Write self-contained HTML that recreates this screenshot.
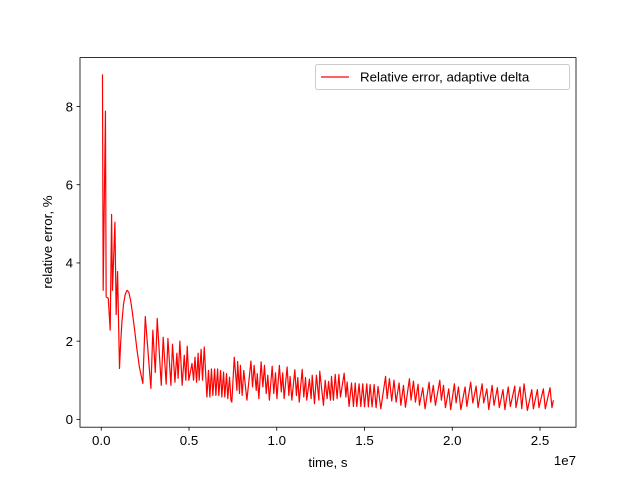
<!DOCTYPE html>
<html><head><meta charset="utf-8"><style>
body{margin:0;background:#fff}
svg text{font-family:"Liberation Sans","DejaVu Sans",sans-serif;font-size:13.3px;fill:#000}
</style></head><body>
<svg id="chart" width="640" height="480" xmlns="http://www.w3.org/2000/svg">
<rect x="0" y="0" width="640" height="480" fill="#fff"/>
<g id="plot"></g>
<g id="axes"></g>
<text x="328" y="467" text-anchor="middle">time, s</text>
<text transform="translate(52,242) rotate(-90)" text-anchor="middle">relative error, %</text>
<text x="576" y="465" text-anchor="end">1e7</text>
<g>
<rect x="315.5" y="64.5" width="254" height="25" rx="2" fill="#fff" fill-opacity="0.8" stroke="#ccc"/>
<line x1="321" y1="77" x2="349" y2="77" stroke="red" stroke-width="1.2"/>
<text x="360" y="81.5">Relative error, adaptive delta</text>
</g>
</svg>
<script>
const xs = [0.007,0.011,0.024,0.028,0.040,0.051,0.059,0.064,0.078,0.085,0.093,0.104,0.110,0.118,0.127,0.137,0.147,0.157,0.167,0.177,0.190,0.203,0.217,0.237,0.251,0.283,0.294,0.308,0.319,0.342,0.353,0.370,0.380,0.397,0.406,0.420,0.431,0.438,0.448,0.461,0.473,0.482,0.490,0.499,0.517,0.526,0.534,0.543,0.552,0.558,0.569,0.577,0.587,0.602,
0.611,0.619,0.628,0.636,0.646,0.653,0.663,0.670,0.680,0.687,0.697,0.704,0.714,0.721,0.731,0.739,0.744,
0.758,0.773,0.777,0.788,0.793,0.803,0.812,0.830,0.853,0.862,0.871,0.883,0.889,0.898,0.911,0.921,0.930,0.940,0.949,0.958,0.974,0.983,0.993,1.001,1.015,1.026,1.034,1.042,1.059,1.069,1.076,1.086,1.103,1.112,1.120,1.128,1.145,1.154,1.164,1.171,1.186,1.196,1.202,1.215,1.226,1.240,1.245,1.266,1.276,1.287,1.295,1.306,1.312,1.323,1.333,1.344,1.354,1.363,1.384,1.394,1.401,1.412,1.426,1.437,1.447,1.456,1.469,1.479,1.490,1.500,1.513,1.522,1.532,1.543,1.555,1.566,1.577,1.593,1.620,1.629,1.642,
1.655,1.668,1.680,1.697,1.707,1.722,1.733,1.756,1.765,1.779,1.790,1.805,1.813,1.832,1.845,1.868,1.877,1.892,1.904,1.929,1.938,1.950,1.961,1.980,1.991,2.012,2.022,2.035,2.049,2.073,2.083,2.105,2.117,2.136,2.147,2.170,2.179,2.197,2.208,2.227,2.238,2.257,2.268,2.289,2.300,2.319,2.331,2.356,2.363,2.386,2.396,2.409,2.428,2.453,2.462,2.485,2.494,2.519,2.530,2.557,2.568,2.576];
const ys = [8.82,3.3,7.88,3.13,3.1,2.28,5.24,3.3,5.04,2.68,3.78,1.30,1.9,2.5,2.95,3.2,3.3,3.25,3.05,2.75,2.3,1.8,1.35,0.92,2.63,0.79,2.28,1.2,2.58,0.87,2.1,0.9,2.07,0.87,1.92,0.95,1.69,1.05,2.0,0.87,1.64,1.0,1.87,1.0,1.43,1.0,1.59,0.95,1.69,1.0,1.79,1.0,1.85,0.57,
1.25,0.57,1.29,0.61,1.29,0.61,1.29,0.61,1.25,0.57,1.21,0.57,1.17,0.53,1.08,0.49,0.44,
1.59,0.74,1.48,0.66,1.38,0.61,1.25,0.49,1.49,0.83,1.38,0.74,1.17,0.53,1.47,0.83,1.38,0.66,1.13,0.49,1.36,0.66,1.19,0.53,1.38,0.70,1.19,0.53,1.34,0.61,1.10,0.49,1.27,0.61,1.07,0.44,1.28,0.57,1.07,0.49,1.03,0.53,1.13,0.40,1.13,0.49,1.23,0.36,1.00,0.53,0.97,0.49,1.10,0.49,1.15,0.53,1.15,0.57,1.18,0.57,0.955,0.33,0.93,0.33,0.93,0.33,0.91,0.33,0.91,0.32,0.91,0.32,0.89,0.32,0.89,0.30,0.84,0.27,1.10,0.53,1.04,
0.47,1.00,0.44,0.93,0.36,0.87,0.31,1.04,0.49,0.98,0.44,0.90,0.36,0.81,0.27,0.95,0.44,0.87,0.36,1.00,0.49,0.87,0.30,0.78,0.25,0.91,0.42,0.83,0.25,0.83,0.33,0.95,0.42,0.85,0.30,0.91,0.42,0.78,0.25,0.87,0.36,0.81,0.30,0.76,0.25,0.83,0.33,0.85,0.30,0.83,0.27,0.91,0.23,0.76,0.27,0.76,0.30,0.78,0.27,0.81,0.30,0.49];
const xTicks = [0, 0.5, 1.0, 1.5, 2.0, 2.5];
const xTickLabels = ["0.0","0.5","1.0","1.5","2.0","2.5"];
const yTicks = [0, 2, 4, 6, 8];
const yTickLabels = ["0","2","4","6","8"];

const L=80,R=576,T=57.6,B=427.2;
const xmin=-0.121,xmax=2.705,ymin=-0.20,ymax=9.25;
const sx=v=>L+(v-xmin)/(xmax-xmin)*(R-L);
const sy=v=>B-(v-ymin)/(ymax-ymin)*(B-T);
const NS="http://www.w3.org/2000/svg";
const plot=document.getElementById('plot'), axes=document.getElementById('axes');

let d='';
for(let i=0;i<xs.length;i++){d+=(i?'L':'M')+sx(xs[i]).toFixed(2)+','+sy(ys[i]).toFixed(2);}
const path=document.createElementNS(NS,'path');
path.setAttribute('d',d);path.setAttribute('fill','none');path.setAttribute('stroke','red');
path.setAttribute('stroke-width','1.2');path.setAttribute('stroke-linejoin','round');


plot.appendChild(path);

const frame=document.createElementNS(NS,'rect');
frame.setAttribute('x',L);frame.setAttribute('y',T);frame.setAttribute('width',R-L);frame.setAttribute('height',B-T);
frame.setAttribute('fill','none');frame.setAttribute('stroke','#000');frame.setAttribute('stroke-width','0.8');


axes.appendChild(frame);

xTicks.forEach((v,i)=>{
  const x=sx(v);
  const t=document.createElementNS(NS,'line');
  t.setAttribute('x1',x);t.setAttribute('x2',x);t.setAttribute('y1',B);t.setAttribute('y2',B+3.5);
  t.setAttribute('stroke','#000');t.setAttribute('stroke-width','0.8');
  
  
  axes.appendChild(t);
  const tx=document.createElementNS(NS,'text');
  tx.setAttribute('x',x);tx.setAttribute('y',B+18);tx.setAttribute('text-anchor','middle');
  tx.textContent=xTickLabels[i];
  
  
  axes.appendChild(tx);
});
yTicks.forEach((v,i)=>{
  const y=sy(v);
  const t=document.createElementNS(NS,'line');
  t.setAttribute('x1',L-3.5);t.setAttribute('x2',L);t.setAttribute('y1',y);t.setAttribute('y2',y);
  t.setAttribute('stroke','#000');t.setAttribute('stroke-width','0.8');
  
  
  axes.appendChild(t);
  const tx=document.createElementNS(NS,'text');
  tx.setAttribute('x',L-7);tx.setAttribute('y',y+4.8);tx.setAttribute('text-anchor','end');
  tx.textContent=yTickLabels[i];
  
  
  axes.appendChild(tx);
});
</script>
</body></html>
